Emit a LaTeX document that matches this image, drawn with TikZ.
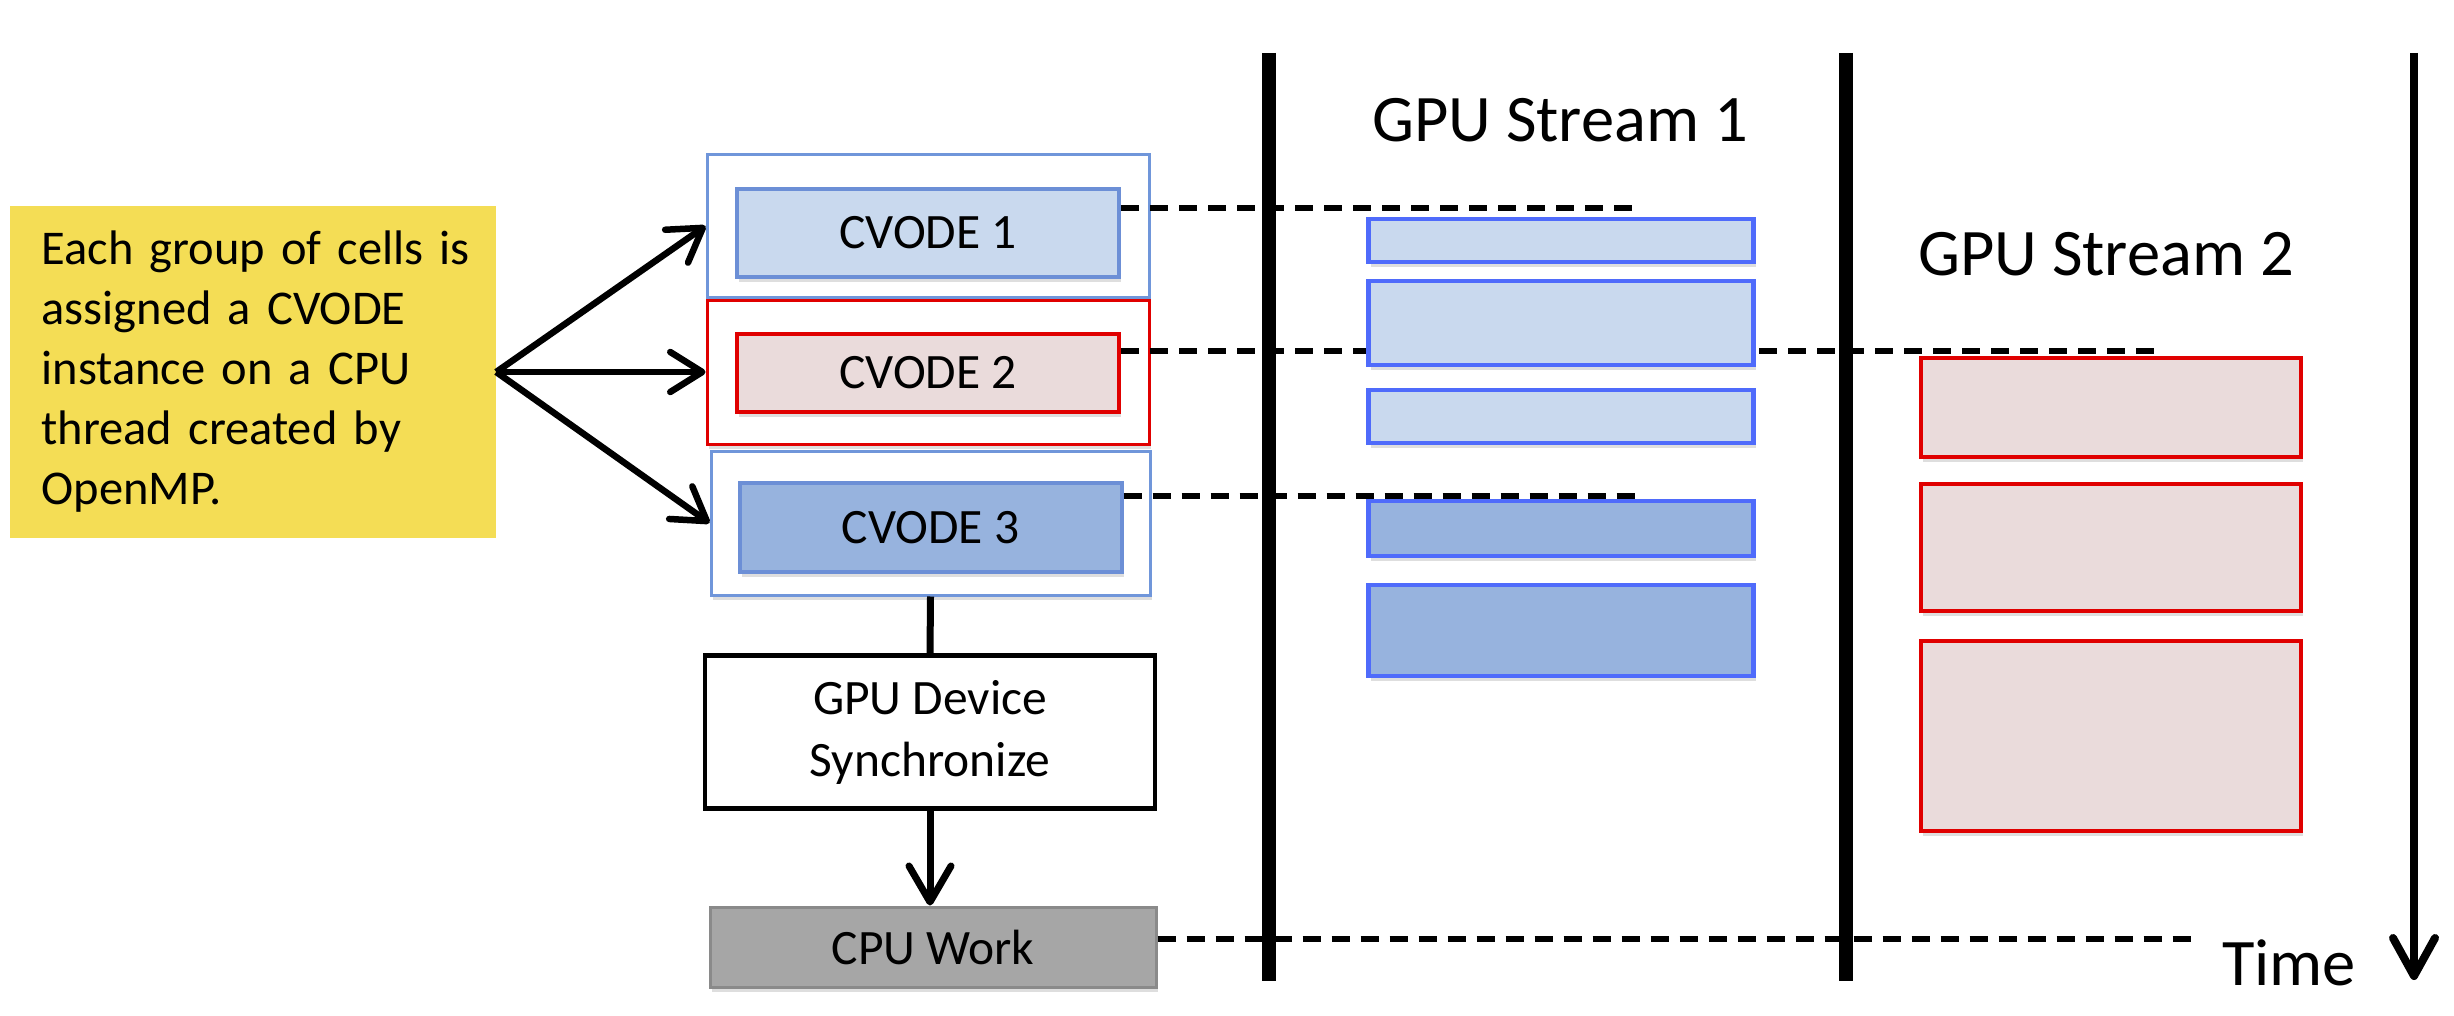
\documentclass[tikz,border=0pt]{standalone}
\usepackage{fontspec}
\setmainfont{Carlito}
\usetikzlibrary{arrows.meta,shadows,calc}
\definecolor{yfill}{HTML}{F4DD55}
\definecolor{oblue}{HTML}{7096DA}
\definecolor{ored}{HTML}{E00000}
\definecolor{cbluefill}{HTML}{C9D9EE}
\definecolor{cblueline}{HTML}{6C8FD6}
\definecolor{cdarkfill}{HTML}{97B3DE}
\definecolor{pinkfill}{HTML}{EADBDB}
\definecolor{sblue}{HTML}{4F6BFB}
\definecolor{grayfill}{HTML}{A6A6A6}
\definecolor{grayline}{HTML}{8A8A8A}
\newcommand\dgbody{\fontsize{49.5}{62}\selectfont}
\newcommand\dgnote{\fontsize{48.5}{60}\selectfont}
\newcommand\dgbig{\fontsize{66.5}{78}\selectfont}
\begin{document}
\begin{tikzpicture}[x=1pt,y=-1pt,
  shadowy/.style={drop shadow={shadow xshift=2pt,shadow yshift=-5pt,opacity=0.13,fill=black}},
  basebox/.style={rectangle,inner sep=0pt,font=\dgbody,text=black},
  ybox/.style={basebox,fill=yfill,draw=none,font=\dgnote},
  outerblue/.style={basebox,draw=oblue,line width=3pt,fill=white,shadowy},
  outerred/.style={basebox,draw=ored,line width=3pt,fill=white,shadowy},
  cvlight/.style={basebox,draw=cblueline,line width=4pt,fill=cbluefill,shadowy,minimum width=382pt},
  cvdark/.style={basebox,draw=cblueline,line width=4pt,fill=cdarkfill,shadowy,minimum width=382pt},
  cvpink/.style={basebox,draw=ored,line width=4pt,fill=pinkfill,shadowy,minimum width=382pt},
  slight/.style={basebox,draw=sblue,line width=4.5pt,fill=cbluefill,shadowy,minimum width=385pt},
  sdark/.style={basebox,draw=sblue,line width=4.5pt,fill=cdarkfill,shadowy,minimum width=385pt},
  rbox/.style={basebox,draw=ored,line width=4pt,fill=pinkfill,shadowy,minimum width=380pt},
  syncbox/.style={basebox,draw=black,line width=4.5pt,fill=white,align=center},
  cpubox/.style={basebox,draw=grayline,line width=3pt,fill=grayfill,shadowy},
  conn/.style={line width=6.5pt,-{Straight Barb[length=32pt,width=40pt,line cap=round,line join=round]}},
  dashline/.style={line width=5.5pt,dash pattern=on 18pt off 11pt},
  bigline/.style={line width=14pt},
  label/.style={font=\dgbig,inner sep=0pt,anchor=base}
]
\useasboundingbox (0,0) rectangle (2454,1016);
\fill[white] (0,0) rectangle (2454,1016);

% coordinates
\coordinate (L1t) at (1269,53);
\coordinate (L1b) at (1269,981);
\coordinate (L2t) at (1846,53);
\coordinate (L2b) at (1846,981);
\coordinate (Tt) at (2414,53);
\coordinate (Tb) at (2414,980);
\coordinate (d1e) at (1635,208);
\coordinate (d2e) at (2160,351);
\coordinate (d3e) at (1639,496);
\coordinate (d4e) at (2192,939);

% yellow box
\node[ybox,minimum width=486pt,minimum height=332pt,text width=423pt,align=left] (Y) at (253,372)
  {\mbox{Each group of cells is}\\\mbox{assigned a CVODE}\\\mbox{instance on a CPU}\\\mbox{thread created by}\\\mbox{OpenMP.}};

% outer boxes
\node[outerblue,minimum width=442pt,minimum height=142pt] (O1) at (928,226) {};
\node[outerred,minimum width=442pt,minimum height=144pt] (O2) at (928,372) {};
\node[outerblue,minimum width=439pt,minimum height=144pt] (O3) at (930.5,523) {};

% CVODE boxes
\node[cvlight,minimum height=88pt] (C1) at (928,233) {CVODE 1};
\node[cvpink,minimum height=78pt] (C2) at (928,373) {CVODE 2};
\node[cvdark,minimum height=89pt] (C3) at (930.5,527.5) {CVODE 3};

% sync and cpu
\node[syncbox,minimum width=450pt,minimum height=153pt] (S) at (930,732) {GPU Device\\Synchronize};
\node[cpubox,minimum width=446pt,minimum height=80pt] (W) at (933,947) {CPU Work};

% arrows from yellow box
\draw[conn] (Y.east) -- (O1.west);
\draw[conn] (Y.east) -- (O2.west);
\draw[conn] (Y.east) -- (O3.west);

% sync connectors
\draw[line width=7pt] (O3.south) -- (S.north);
\draw[line width=7pt,-{Straight Barb[length=36pt,width=42pt,line cap=round,line join=round]}] (S.south) -- (S.south |- W.north);

% dashed time markers
\draw[dashline] (C1.east |- d1e) -- (d1e);
\draw[dashline] (C2.east |- d2e) -- (d2e);
\draw[dashline] (C3.east |- d3e) -- (d3e);
\draw[dashline] (W.east |- d4e) -- (d4e);

% vertical lines
\draw[bigline] (L1t) -- (L1b);
\draw[bigline] (L2t) -- (L2b);
\draw[line width=8pt,-{Straight Barb[length=38pt,width=42pt,line cap=round,line join=round]}] (Tt) -- (Tb);

% stream 1 boxes
\node[slight,minimum height=43pt] (B1) at (1561,240.5) {};
\node[slight,minimum height=84pt] (B2) at (1561,323) {};
\node[slight,minimum height=53pt] (B3) at (1561,416.5) {};
\node[sdark,minimum height=55pt] (B4) at (1561,528.5) {};
\node[sdark,minimum height=91pt] (B5) at (1561,630.5) {};

% stream 2 boxes
\node[rbox,minimum height=99pt] (R1) at (2111,407.5) {};
\node[rbox,minimum height=127pt] (R2) at (2111,547.5) {};
\node[rbox,minimum height=190pt] (R3) at (2111,736) {};

% labels
\node[label] (S1) at (1560,142) {GPU Stream 1};
\node[label] (S2) at (2106,276) {GPU Stream 2};
\node[label] (TL) at (2289,985) {Time};
\end{tikzpicture}
\end{document}
